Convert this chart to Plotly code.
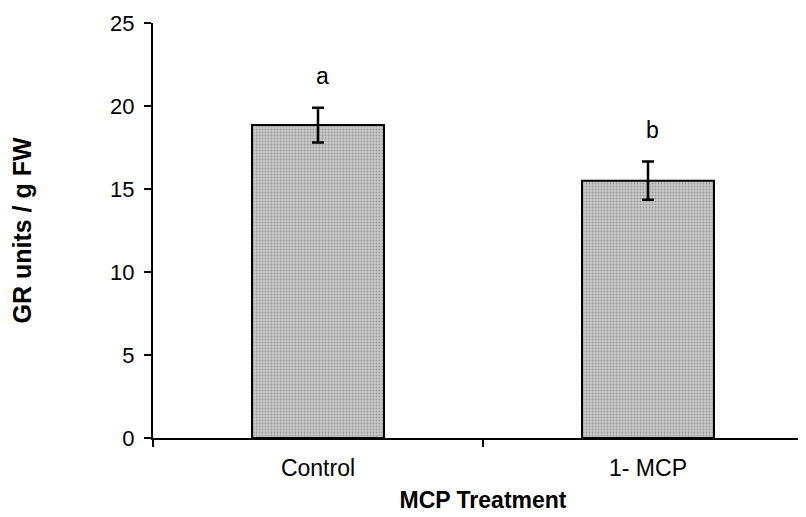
import plotly.graph_objects as go

categories = ["Control", "1- MCP"]
values = [18.85, 15.5]
errors = [1.05, 1.15]
letters = ["a", "b"]
letter_y = [21.8, 18.55]
y_ticks = [0, 5, 10, 15, 20, 25]

FONT = "Liberation Sans, Arial"

fig = go.Figure()
fig.add_trace(go.Bar(
    x=categories, y=values,
    width=0.4,
    marker=dict(
        color="#bdbdbd",
        line=dict(color="black", width=2),
        pattern=dict(shape=".", fgcolor="#6a6a6a", bgcolor="#c9c9c9", size=3, solidity=0.3),
    ),
    error_y=dict(type="data", array=errors, visible=True, color="black", thickness=2.5, width=6),
))

for c, l, ly in zip(categories, letters, letter_y):
    fig.add_annotation(x=c, y=ly, text=l, showarrow=False, xshift=4,
                       font=dict(family=FONT, size=23, color="black"))

fig.update_layout(
    width=806, height=517,
    margin=dict(l=145, r=1, t=15, b=87),
    plot_bgcolor="white", paper_bgcolor="white",
    showlegend=False,
    font=dict(family=FONT, size=22, color="black"),
)
fig.update_xaxes(
    type="category", range=[-0.5, 1.5],
    showline=True, linecolor="black", linewidth=2,
    ticks="outside", tickson="boundaries", ticklen=7, tickwidth=2, tickcolor="black",
    showgrid=False,
    ticklabelstandoff=8,
    title=dict(text="<b>MCP Treatment</b>", font=dict(size=23), standoff=12),
    tickfont=dict(size=23),
)
fig.update_yaxes(
    range=[0, 25], tickvals=y_ticks,
    showline=True, linecolor="black", linewidth=2,
    ticks="outside", ticklen=7, tickwidth=2, tickcolor="black",
    showgrid=False, zeroline=False,
    ticklabelstandoff=5,
    title=dict(text="<b>GR units / g FW</b>", font=dict(size=25), standoff=72),
    tickfont=dict(size=22),
)

fig.write_html("out.html")
